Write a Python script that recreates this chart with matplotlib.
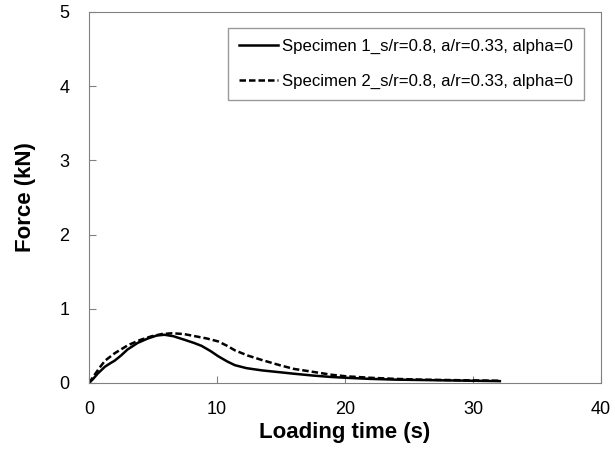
import matplotlib.pyplot as plt

plt.rcParams['font.family'] = ['Liberation Sans', 'DejaVu Sans']

# loading time (s) and force (kN)
t1 = [0, 0.3, 0.7, 1.25, 1.7, 2.0, 2.5, 3.0, 3.8, 4.6, 5.3, 5.9, 6.6, 7.5, 8.2, 8.8,
      9.5, 10.1, 10.8, 11.4, 12.3, 13.5, 14.9, 16, 17.5, 19, 20.1, 22, 24, 26, 28, 30, 32.1]
f1 = [0, 0.05, 0.13, 0.22, 0.27, 0.30, 0.37, 0.45, 0.54, 0.60, 0.64, 0.65, 0.63, 0.58, 0.54, 0.50,
      0.43, 0.36, 0.29, 0.24, 0.20, 0.17, 0.145, 0.125, 0.10, 0.08, 0.07, 0.055, 0.045, 0.04, 0.035, 0.03, 0.025]
t2 = [0, 0.4, 0.8, 1.25, 2.0, 3.05, 4.0, 4.9, 5.7, 6.5, 7.4, 8.3, 9.2, 10.1, 10.8, 11.4,
      12.4, 13.5, 14.9, 16, 17.5, 19, 20.1, 22, 24, 26, 28, 30, 32.1]
f2 = [0, 0.10, 0.20, 0.30, 0.40, 0.51, 0.58, 0.63, 0.66, 0.67, 0.66, 0.63, 0.60, 0.56, 0.50, 0.44,
      0.37, 0.31, 0.24, 0.19, 0.15, 0.11, 0.09, 0.07, 0.055, 0.045, 0.04, 0.035, 0.03]

labels = ["Specimen 1_s/r=0.8, a/r=0.33, alpha=0",
          "Specimen 2_s/r=0.8, a/r=0.33, alpha=0"]

fig = plt.figure(figsize=(6.15, 4.73), dpi=100)
ax = fig.add_axes([0.1447, 0.1903, 0.8325, 0.7844])

ax.plot(t1, f1, color="black", lw=1.8, label=labels[0])
ax.plot(t2, f2, color="black", lw=1.8, ls=(0, (2.6, 1.2)), label=labels[1])

ax.set_xlim(0, 40)
ax.set_ylim(0, 5)
ax.set_xticks([0, 10, 20, 30, 40])
ax.set_yticks([0, 1, 2, 3, 4, 5])
ax.tick_params(direction="in", labelsize=13, length=5, color="#808080")
ax.tick_params(axis="x", pad=13)
ax.tick_params(axis="y", pad=14)
for s in ax.spines.values():
    s.set_color("#808080")

ax.set_xlabel("Loading time (s)", fontsize=16, fontweight="bold", labelpad=3)
ax.set_ylabel("Force (kN)", fontsize=16, fontweight="bold", labelpad=17)

leg = ax.legend(loc="upper right", bbox_to_anchor=(0.967, 0.957), borderaxespad=0,
                fontsize=12.1, frameon=True, fancybox=False, edgecolor="#808080",
                handlelength=2.3, handletextpad=0.25, labelspacing=1.2,
                borderpad=0.65)
leg.get_frame().set_linewidth(1)

plt.savefig("out.png", dpi=100)
